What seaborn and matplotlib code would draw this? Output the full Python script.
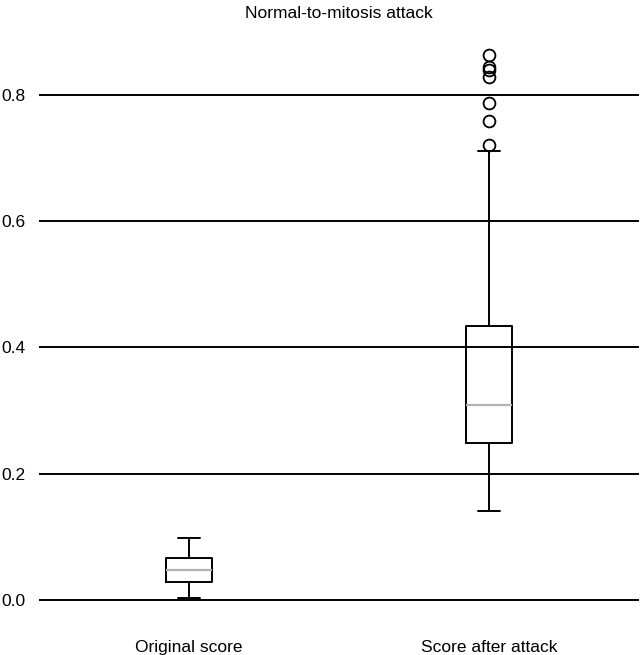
import pandas as pd
import matplotlib.pyplot as plt
import seaborn as sns

# values (sorted samples per group)
original_score = [0.003, 0.015, 0.0285, 0.038, 0.0475, 0.056, 0.0665, 0.08, 0.098]
after_attack = [0.141, 0.17, 0.19, 0.205, 0.218, 0.228, 0.237, 0.244,
                0.249,
                0.256, 0.263, 0.271, 0.279, 0.287, 0.295, 0.302,
                0.309,
                0.325, 0.342, 0.36, 0.377, 0.395, 0.41, 0.424,
                0.434,
                0.711, 0.721, 0.759, 0.787, 0.829, 0.840, 0.844, 0.863]
categories = ["Original score", "Score after attack"]
title = "Normal-to-mitosis attack"

df = pd.DataFrame({
    "group": [categories[0]] * len(original_score) + [categories[1]] * len(after_attack),
    "score": original_score + after_attack,
})

sns.set_style("white")
plt.rcParams["font.family"] = ["Liberation Sans", "DejaVu Sans"]
plt.rcParams["text.color"] = "black"

fig = plt.figure(figsize=(6.4, 6.55), dpi=100)
ax = fig.add_axes([39 / 640, 30 / 655, 600 / 640, 600 / 655])

sns.boxplot(data=df, x="group", y="score", order=categories, ax=ax,
            width=0.153, fill=False, color="black", linecolor="black",
            linewidth=1.4, fliersize=8.5,
            medianprops={"color": "#b3b3b3", "linewidth": 1.6},
            flierprops={"marker": "o", "markerfacecolor": "none",
                        "markeredgecolor": "black", "markeredgewidth": 1.3})

ax.set_xlim(-0.5, 1.5)
ax.set_ylim(-0.04, 0.911)
ax.set_yticks([0.0, 0.2, 0.4, 0.6, 0.8])
ax.set_yticklabels(["0.0", "0.2", "0.4", "0.6", "0.8"])
ax.yaxis.grid(True, color="black", linewidth=1.4)
ax.xaxis.grid(False)
ax.set_axisbelow(False)
for s in ax.spines.values():
    s.set_visible(False)
ax.tick_params(axis="both", length=0, labelsize=12.5, labelcolor="black")
ax.tick_params(axis="y", pad=10)
ax.tick_params(axis="x", pad=11)
ax.set_xlabel("")
ax.set_ylabel("")
ax.set_title(title, fontsize=12.5, pad=5, color="black")

fig.savefig("out.png", dpi=100)
